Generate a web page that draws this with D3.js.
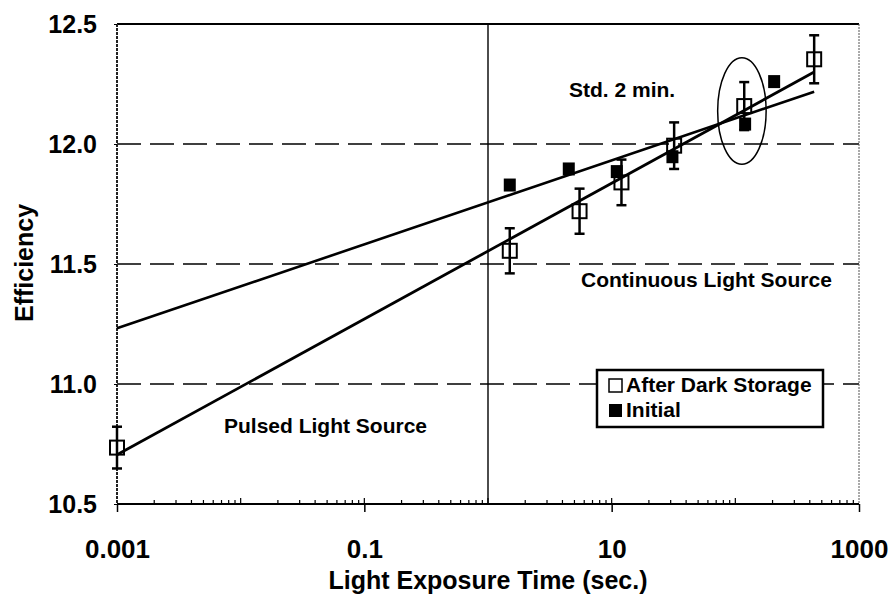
<!DOCTYPE html>
<html>
<head>
<meta charset="utf-8">
<script src="https://cdn.jsdelivr.net/npm/d3@7"></script>
<style>
  body { margin: 0; background: #fff; }
  text { font-family: "Liberation Sans", Arial, sans-serif; font-weight: bold; fill: #000; }
</style>
</head>
<body>
<svg id="chart" width="893" height="594"></svg>
<script>
// after dark storage (open squares, with error bars)
var darkX = [0.001, 1.5, 5.5, 12, 32, 118, 434];
var darkY = [10.735, 11.555, 11.72, 11.84, 11.993, 12.158, 12.353];
var darkErr = [0.087, 0.094, 0.094, 0.095, 0.097, 0.10, 0.10];

// initial (filled squares)
var initX = [1.5, 4.5, 11, 31, 120, 206];
var initY = [11.829, 11.896, 11.885, 11.947, 12.083, 12.26];

// fitted lines (end points)
var pulsedFitX = [0.001, 434];
var pulsedFitY = [10.705, 12.30];
var contFitX = [0.001, 434];
var contFitY = [11.232, 12.218];

var xTicks = [0.001, 0.1, 10, 1000];
var xTickLabels = ["0.001", "0.1", "10", "1000"];
var yTicks = [10.5, 11.0, 11.5, 12.0, 12.5];
var yGrid = [11.0, 11.5, 12.0];

// ellipse around the std. 2 min. point
var ellipseX = 113, ellipseY = 12.1375, ellipseDecades = 0.196, ellipseHalfH = 0.222;

var svg = d3.select("#chart");
var pLeft = 117, pRight = 859, pTop = 24, pBottom = 504;

var x = d3.scaleLog().domain([0.001, 1000]).range([pLeft, pRight]);
var y = d3.scaleLinear().domain([10.5, 12.5]).range([pBottom, pTop]);

// dashed grid
svg.selectAll(".grid").data(yGrid).join("line")
  .attr("x1", pLeft).attr("x2", pRight)
  .attr("y1", function(d) { return y(d); }).attr("y2", function(d) { return y(d); })
  .style("stroke", "#000").style("stroke-width", 1.6)
  .style("stroke-dasharray", "24,9");

// vertical line at 1 s
svg.append("line")
  .attr("x1", x(1)).attr("x2", x(1)).attr("y1", pTop).attr("y2", pBottom)
  .style("stroke", "#000").style("stroke-width", 1.4);

// frame
svg.append("line").attr("x1", pLeft).attr("x2", pRight).attr("y1", pTop).attr("y2", pTop)
  .style("stroke", "#000").style("stroke-width", 2);
svg.append("line").attr("x1", pRight).attr("x2", pRight).attr("y1", pTop).attr("y2", pBottom)
  .style("stroke", "#555").style("stroke-width", 1).style("stroke-dasharray", "2,1");
svg.append("line").attr("x1", pLeft).attr("x2", pLeft).attr("y1", pTop).attr("y2", pBottom)
  .style("stroke", "#222").style("stroke-width", 2).style("stroke-dasharray", "3,1");

// x axis: minor ticks inside, labelled ticks below
var minor = [];
for (var e = -3; e < 3; e++) {
  for (var m = 1; m <= 9; m++) {
    var v = m * Math.pow(10, e);
    if (v > 0.001 * 1.0001) minor.push(v);
  }
}
svg.selectAll(".minor").data(minor).join("line")
  .attr("x1", function(d) { return x(d); }).attr("x2", function(d) { return x(d); })
  .attr("y1", pBottom - 1)
  .attr("y2", function(d) { return Math.abs(Math.log10(d) - Math.round(Math.log10(d))) < 1e-6 ? pBottom - 6 : pBottom - 4; })
  .style("stroke", "#000").style("stroke-width", 1.2);

var xAxis = d3.axisBottom(x).tickValues(xTicks)
  .tickFormat(function(d, i) { return xTickLabels[i]; })
  .tickSize(8).tickPadding(28);
var gx = svg.append("g").attr("transform", "translate(0," + pBottom + ")").call(xAxis);
gx.select(".domain").style("stroke-width", 2.2).attr("d", "M" + pLeft + ",0H" + pRight);
gx.selectAll(".tick line").style("stroke-width", 1.5);
gx.selectAll("text").style("font-size", "26px").style("font-family", "Liberation Sans, Arial, sans-serif").style("font-weight", "bold");

var yAxis = d3.axisLeft(y).tickValues(yTicks).tickFormat(d3.format(".1f"))
  .tickSize(3).tickPadding(17);
var gy = svg.append("g").attr("transform", "translate(" + pLeft + ",0)").call(yAxis);
gy.select(".domain").remove();
gy.selectAll("text").style("font-size", "25px").style("font-family", "Liberation Sans, Arial, sans-serif").style("font-weight", "bold");

// axis titles
svg.append("text").attr("x", (pLeft + pRight) / 2).attr("y", 589)
  .attr("text-anchor", "middle").style("font-size", "25px")
  .text("Light Exposure Time (sec.)");
svg.append("text").attr("transform", "translate(33," + 263 + ") rotate(-90)")
  .attr("text-anchor", "middle").style("font-size", "25px")
  .text("Efficiency");

// fit lines
var line = d3.line().x(function(d) { return x(d[0]); }).y(function(d) { return y(d[1]); });
svg.append("path").datum(d3.zip(contFitX, contFitY)).attr("d", line)
  .style("fill", "none").style("stroke", "#000").style("stroke-width", 2.6);
svg.append("path").datum(d3.zip(pulsedFitX, pulsedFitY)).attr("d", line)
  .style("fill", "none").style("stroke", "#000").style("stroke-width", 2.8);

// ellipse
svg.append("ellipse")
  .attr("cx", x(ellipseX)).attr("cy", y(ellipseY))
  .attr("rx", x(ellipseX * Math.pow(10, ellipseDecades)) - x(ellipseX))
  .attr("ry", y(ellipseY - ellipseHalfH) - y(ellipseY))
  .style("fill", "none").style("stroke", "#000").style("stroke-width", 1.5);

// initial points
svg.selectAll(".init").data(d3.zip(initX, initY)).join("rect")
  .attr("x", function(d) { return x(d[0]) - 6; })
  .attr("y", function(d) { return y(d[1]) - 6.5; })
  .attr("width", 12).attr("height", 13)
  .style("fill", "#000");

// error bars
var dark = darkX.map(function(d, i) { return { x: d, y: darkY[i], e: darkErr[i] }; });
var eb = svg.selectAll(".err").data(dark).join("g");
eb.append("line")
  .attr("x1", function(d) { return x(d.x); }).attr("x2", function(d) { return x(d.x); })
  .attr("y1", function(d) { return y(d.y + d.e); }).attr("y2", function(d) { return y(d.y - d.e); })
  .style("stroke", "#000").style("stroke-width", 2.5);
[1, -1].forEach(function(s) {
  eb.append("line")
    .attr("x1", function(d) { return x(d.x) - 5; }).attr("x2", function(d) { return x(d.x) + 5; })
    .attr("y1", function(d) { return y(d.y + s * d.e); }).attr("y2", function(d) { return y(d.y + s * d.e); })
    .style("stroke", "#000").style("stroke-width", 2.5);
});

// after dark storage points
svg.selectAll(".dark").data(dark).join("rect")
  .attr("x", function(d) { return x(d.x) - 7; })
  .attr("y", function(d) { return y(d.y) - 7; })
  .attr("width", 14).attr("height", 14)
  .style("fill", "none").style("stroke", "#000").style("stroke-width", 2);

// annotations
svg.append("text").attr("x", 569).attr("y", 97).style("font-size", "21px").text("Std. 2 min.");
svg.append("text").attr("x", 581).attr("y", 287).style("font-size", "21px").text("Continuous Light Source");
svg.append("text").attr("x", 224).attr("y", 433).style("font-size", "21px").text("Pulsed Light Source");

// legend
var lg = svg.append("g").attr("transform", "translate(597,370)");
lg.append("rect").attr("width", 226).attr("height", 57)
  .style("fill", "#fff").style("stroke", "#000").style("stroke-width", 2.5);
lg.append("rect").attr("x", 12).attr("y", 9).attr("width", 13).attr("height", 13)
  .style("fill", "#fff").style("stroke", "#000").style("stroke-width", 1.5);
lg.append("text").attr("x", 29).attr("y", 22).style("font-size", "21px").text("After Dark Storage");
lg.append("rect").attr("x", 12).attr("y", 34).attr("width", 13).attr("height", 13)
  .style("fill", "#000");
lg.append("text").attr("x", 29).attr("y", 47).style("font-size", "21px").text("Initial");
</script>
</body>
</html>
